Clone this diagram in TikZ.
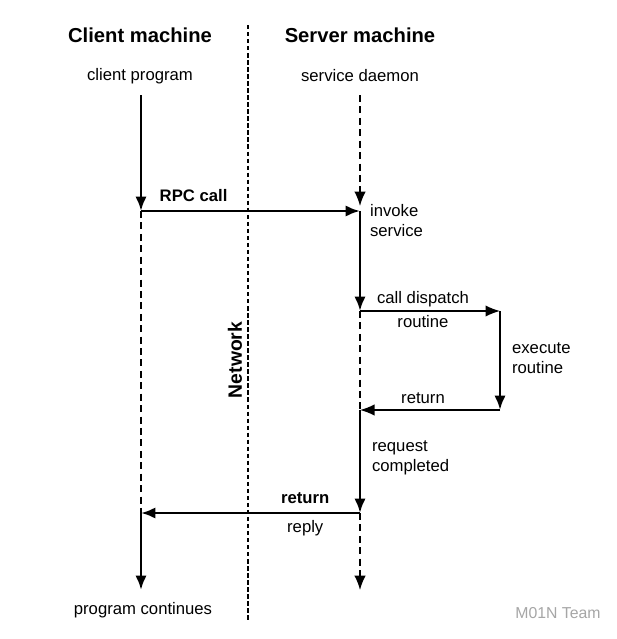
\documentclass[tikz,border=0pt]{standalone}
\usepackage{fontspec}
\setmainfont{Liberation Sans}
\usetikzlibrary{arrows.meta,positioning}

\begin{document}
\begin{tikzpicture}[
    x=0.02cm, y=-0.02cm,
    font=\fontsize{9.5}{11.4}\selectfont,
    titulo/.style={font=\fontsize{11.5}{13}\selectfont\bfseries},
    lbl/.style={inner sep=1pt, align=left},
    punta/.style={-{Latex[length=2.9mm,width=2.3mm]}},
    flujo/.style={punta, line width=1.6pt},
    fino/.style={punta, line width=0.9pt},
    espera/.style={dash pattern=on 4pt off 2.5pt, line width=0.8pt},
    divisoria/.style={dash pattern=on 2.5pt off 1.5pt, line width=0.9pt}
  ]
  \useasboundingbox (0,0) rectangle (616,639);

  % cabeceras
  \node[titulo] (cliente) at (140,35) {Client machine};
  \node[titulo] (servidor) at (360,35) {Server machine};
  \node (cprog) at (140,76) {client program};
  \node (sdaemon) at (360,76) {service daemon};

  % puntos de las lineas de vida
  \coordinate (c0) at (141,95);
  \coordinate (c1) at (141,211);
  \coordinate (c2) at (141,513);
  \coordinate (c3) at (141,590);
  \coordinate (s0) at (360,95);
  \coordinate (s1) at (360,211);
  \coordinate (sf) at (360,206);
  \coordinate (s2) at (360,311);
  \coordinate (s3) at (360,410);
  \coordinate (s4) at (360,513);
  \coordinate (s5) at (360,590);
  \coordinate (e1) at (500,311);
  \coordinate (e2) at (500,410);
  \coordinate (n0) at (248,25);
  \coordinate (n1) at (248,622);

  % red
  \draw[divisoria] (n0) -- (n1);
  \node[font=\fontsize{11}{13}\selectfont\bfseries, rotate=90] (red) at (235,360) {Network};

  % cliente
  \draw[flujo] (c0) -- (c1);
  \draw[espera] (c1) -- (c2);
  \draw[flujo] (c2) -- (c3);
  \node (sigue) at (143,610) {program continues};

  % servidor
  \draw[espera, punta] (s0) -- (sf);
  \draw[flujo] (c1) -- (s1) node[pos=.24, above=1pt, font=\fontsize{9.5}{11.4}\selectfont\bfseries] {RPC call};
  \node[lbl, anchor=west] (invocar) at (368,221) {invoke\\service};
  \draw[flujo] (s1) -- (s2);
  \draw[fino] (s2) -- (e1)
    node[pos=.45, above=-1.5pt] {call dispatch}
    node[pos=.45, below=-1pt] {routine};
  \draw[flujo] (e1) -- (e2);
  \node[lbl, anchor=west] (ejecutar) at (510,358) {execute\\routine};
  \draw[espera] (s2) -- (s3);
  \draw[fino] (e2) -- (s3) node[pos=.55, above=0pt] {return};
  \draw[flujo] (s3) -- (s4);
  \node[lbl, anchor=west] (completo) at (370,458) {request\\completed};
  \draw[flujo] (s4) -- (c2)
    node[pos=.25, above=1pt, font=\fontsize{9.5}{11.4}\selectfont\bfseries] {return}
    node[pos=.25, below=0pt] {reply};
  \draw[espera, punta] (s4) -- (s5);

  % marca de agua
  \node[text=gray!70, font=\fontsize{9}{11}\selectfont] (marca) at (558,613) {M01N Team};
\end{tikzpicture}
\end{document}
